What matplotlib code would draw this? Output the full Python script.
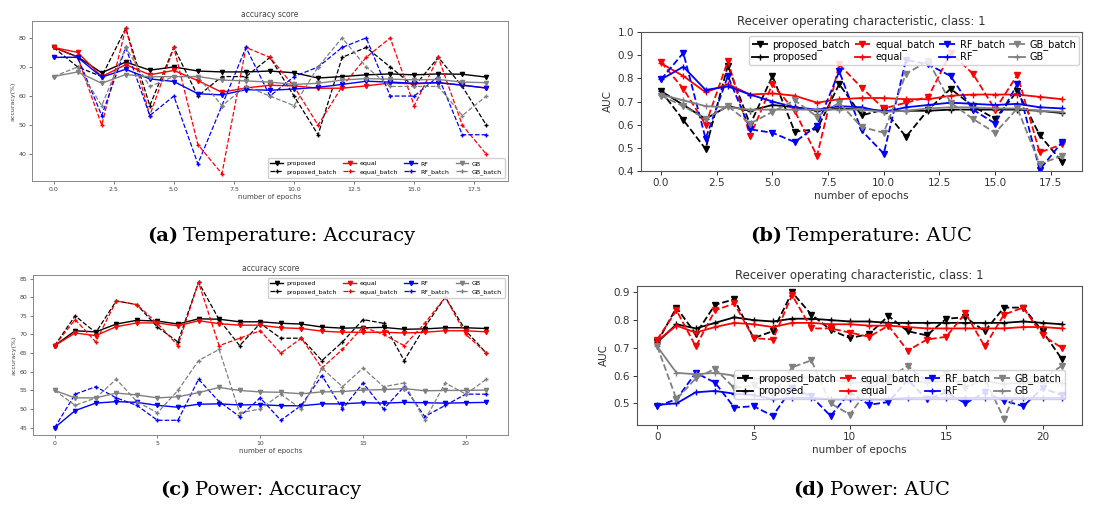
import matplotlib
matplotlib.use("Agg")
import matplotlib.pyplot as plt
import numpy as np

# ---------------- data ----------------
# (a) Temperature: Accuracy (19 epochs)
a_proposed = [76.7, 73.5, 68, 71.7, 68.9, 70, 68.6, 68.3, 68.3, 68.6, 68, 66.2, 66.7, 67.3, 67.6, 67.3, 67.6, 67.5, 66.5]
a_proposed_batch = [76.7, 70, 66.7, 83.3, 56.7, 76.7, 60, 66.7, 66.7, 73.3, 60, 46.7, 73.3, 76.7, 70, 63.3, 73.3, 63.3, 50]
a_equal = [76.7, 75, 66.7, 70.8, 67.3, 68.8, 65.3, 61.3, 62.8, 63.7, 63.5, 62.7, 62.7, 63.5, 64.5, 64.2, 64.6, 63.8, 62.7]
a_equal_batch = [76.7, 73.3, 50, 83.3, 53.3, 76.7, 43.3, 33.3, 76.7, 73.3, 63.3, 50, 63.3, 73.3, 80, 56.7, 73.3, 50, 40]
a_rf = [73.3, 73.3, 66.5, 69.2, 65.9, 65, 60.8, 60.4, 62.2, 62, 62.4, 63, 64, 65.1, 64.8, 64.4, 64.6, 63.7, 62.8]
a_rf_batch = [73.3, 73.3, 53.3, 76.7, 53.3, 60, 36.7, 56.7, 76.7, 60, 66.7, 70, 76.7, 80, 60, 60, 66.7, 46.7, 46.7]
a_gb = [66.7, 68.3, 64.4, 67.4, 66.6, 66.7, 66.7, 65.5, 65.2, 64.8, 64, 64.4, 65.5, 66, 65.8, 65.6, 65.7, 64.8, 64.6]
a_gb_batch = [66.7, 70, 56.7, 76.7, 63.3, 66.7, 66.7, 56.7, 63.3, 60, 56.7, 70, 80, 70, 63.3, 63.3, 63.3, 53.3, 60]

# (b) Temperature: AUC
b_proposed_batch = [0.745, 0.62, 0.495, 0.855, 0.6, 0.81, 0.57, 0.58, 0.775, 0.64, 0.665, 0.548, 0.665, 0.755, 0.68, 0.625, 0.745, 0.555, 0.44]
b_proposed = [0.745, 0.685, 0.625, 0.68, 0.66, 0.685, 0.675, 0.66, 0.67, 0.665, 0.66, 0.66, 0.66, 0.665, 0.665, 0.665, 0.665, 0.66, 0.65]
b_equal_batch = [0.87, 0.755, 0.6, 0.875, 0.55, 0.775, 0.66, 0.465, 0.86, 0.76, 0.67, 0.695, 0.72, 0.91, 0.82, 0.665, 0.815, 0.48, 0.515]
b_equal = [0.865, 0.81, 0.74, 0.775, 0.73, 0.735, 0.725, 0.695, 0.71, 0.715, 0.715, 0.71, 0.71, 0.725, 0.73, 0.73, 0.73, 0.72, 0.71]
b_rf_batch = [0.795, 0.91, 0.54, 0.81, 0.58, 0.565, 0.525, 0.595, 0.83, 0.575, 0.475, 0.88, 0.86, 0.81, 0.665, 0.605, 0.775, 0.405, 0.525]
b_rf = [0.795, 0.85, 0.75, 0.765, 0.73, 0.7, 0.675, 0.665, 0.68, 0.675, 0.655, 0.675, 0.685, 0.695, 0.69, 0.685, 0.69, 0.675, 0.67]
b_gb_batch = [0.725, 0.68, 0.625, 0.68, 0.605, 0.655, 0.705, 0.635, 0.695, 0.59, 0.565, 0.82, 0.875, 0.695, 0.625, 0.565, 0.67, 0.43, 0.465]
b_gb = [0.73, 0.705, 0.68, 0.675, 0.665, 0.665, 0.665, 0.665, 0.665, 0.665, 0.655, 0.66, 0.67, 0.675, 0.675, 0.67, 0.67, 0.66, 0.655]

# (c) Power: Accuracy (22 epochs)
c_proposed = [67, 71, 70.7, 72.8, 73.8, 73.6, 72.8, 74.2, 74.1, 73.4, 73.4, 73, 72.8, 72, 71.7, 71.8, 71.9, 71.4, 71.5, 71.8, 71.8, 71.6]
c_proposed_batch = [67, 75, 70.5, 79, 78, 72, 68, 84, 74, 67, 73, 69, 69, 63, 68, 74, 73, 63, 72, 80, 71, 65]
c_equal = [67, 70.4, 69.7, 72.1, 73.1, 73.1, 72.3, 73.7, 72.9, 72.5, 72.5, 71.8, 71.6, 70.9, 70.6, 70.6, 70.6, 70.4, 70.6, 71, 71, 70.7]
c_equal_batch = [67, 74, 68, 79, 78, 73, 67, 84, 67, 69, 71, 65, 69, 61, 66, 72, 70, 67, 73, 80, 70, 65]
c_rf = [45, 49.6, 51.6, 52, 51.8, 51, 50.5, 51.3, 51.4, 51.1, 51.2, 50.9, 50.9, 51.4, 51.4, 51.7, 51.6, 51.8, 51.7, 51.6, 51.7, 51.8]
c_rf_batch = [45, 54, 56, 53, 51, 47, 47, 58, 52, 48, 53, 47, 51, 59, 50, 57, 50, 56, 48, 51, 54, 54]
c_gb = [55, 53, 53, 54.3, 53.8, 53, 53.3, 54.4, 55.8, 55, 54.6, 54.5, 54.1, 54.6, 54.7, 55.1, 55.2, 55.5, 54.9, 55, 55, 55.1]
c_gb_batch = [55, 51, 53, 58, 52, 49, 55, 63, 66, 49, 50, 54, 50, 61, 56, 61, 56, 57, 47, 57, 54, 58]

# (d) Power: AUC
d_proposed_batch = [0.72, 0.845, 0.75, 0.855, 0.875, 0.735, 0.76, 0.9, 0.82, 0.765, 0.735, 0.75, 0.815, 0.76, 0.745, 0.805, 0.81, 0.76, 0.845, 0.845, 0.76, 0.66]
d_proposed = [0.72, 0.785, 0.77, 0.79, 0.81, 0.8, 0.795, 0.805, 0.805, 0.8, 0.795, 0.795, 0.79, 0.79, 0.79, 0.79, 0.79, 0.79, 0.79, 0.795, 0.79, 0.785]
d_equal_batch = [0.73, 0.835, 0.705, 0.835, 0.86, 0.735, 0.73, 0.89, 0.77, 0.77, 0.755, 0.74, 0.78, 0.69, 0.73, 0.74, 0.825, 0.705, 0.82, 0.845, 0.745, 0.7]
d_equal = [0.725, 0.78, 0.755, 0.775, 0.79, 0.785, 0.775, 0.79, 0.79, 0.785, 0.785, 0.78, 0.78, 0.775, 0.77, 0.77, 0.77, 0.77, 0.77, 0.775, 0.775, 0.77]
d_rf_batch = [0.49, 0.515, 0.61, 0.575, 0.485, 0.49, 0.455, 0.555, 0.525, 0.455, 0.54, 0.495, 0.505, 0.585, 0.515, 0.54, 0.5, 0.54, 0.51, 0.49, 0.555, 0.53]
d_rf = [0.495, 0.5, 0.54, 0.545, 0.535, 0.53, 0.515, 0.52, 0.52, 0.515, 0.515, 0.515, 0.515, 0.52, 0.52, 0.52, 0.52, 0.52, 0.52, 0.52, 0.52, 0.52]
d_gb_batch = [0.705, 0.515, 0.59, 0.625, 0.555, 0.565, 0.53, 0.63, 0.655, 0.5, 0.46, 0.555, 0.59, 0.635, 0.58, 0.605, 0.555, 0.59, 0.445, 0.6, 0.59, 0.635]
d_gb = [0.705, 0.61, 0.605, 0.61, 0.6, 0.59, 0.585, 0.59, 0.595, 0.585, 0.575, 0.575, 0.575, 0.58, 0.575, 0.58, 0.58, 0.58, 0.57, 0.575, 0.575, 0.575]

methods = ["proposed", "equal", "RF", "GB"]
colors = ["black", "red", "blue", "gray"]

captions = [("(a)", "Temperature: Accuracy"), ("(b)", "Temperature: AUC"),
            ("(c)", "Power: Accuracy"), ("(d)", "Power: AUC")]

# ---------------- figure ----------------
W, H = 1118, 505
fig = plt.figure(figsize=(W / 100, H / 100), dpi=100)

def px_axes(l, t, r, b):
    return fig.add_axes([l / W, 1 - b / H, (r - l) / W, (b - t) / H])

txtc = "#444444"

# ---- accuracy panels (small fonts) ----
def acc_panel(ax, series, legloc):
    n = len(series[0][0])
    x = np.arange(n)
    for (solid, batch), m, c in zip(series, methods, colors):
        ax.plot(x, solid, color=c, ls="-", marker="v", ms=3, lw=1.0, label=m)
        ax.plot(x, batch, color=c, ls="--", marker="+", ms=3, lw=0.9, label=m + "_batch")
    ax.set_title("accuracy score", fontsize=5.5, color=txtc, pad=3)
    ax.set_xlabel("number of epochs", fontsize=5, color=txtc, labelpad=2)
    ax.set_ylabel("accuracy(%)", fontsize=4.5, color=txtc, labelpad=2)
    ax.tick_params(labelsize=4.5, colors=txtc, length=2, width=0.5, pad=2)
    for s in ax.spines.values():
        s.set_color("#888888")
        s.set_linewidth(0.7)
    ax.legend(loc=legloc, ncol=4, fontsize=4.5, handlelength=2.0, columnspacing=1.0,
              handletextpad=0.6, borderpad=0.45, labelspacing=0.4, framealpha=0.9,
              edgecolor="#cccccc")

# ---- AUC panels ----
def auc_panel(ax, series, **legkw):
    n = len(series[0][0])
    x = np.arange(n)
    for (batch, solid), m, c in zip(series, methods, colors):
        ax.plot(x, batch, color=c, ls="--", marker="v", ms=5, lw=1.3, label=m + "_batch")
        ax.plot(x, solid, color=c, ls="-", marker="+", ms=5, lw=1.3, label=m)
    ax.set_title("Receiver operating characteristic, class: 1", fontsize=8.5, color="#333333", pad=5)
    ax.set_xlabel("number of epochs", fontsize=7.5, color="#333333", labelpad=2)
    ax.set_ylabel("AUC", fontsize=7.5, color="#333333", labelpad=3)
    ax.tick_params(labelsize=7.5, colors="#333333", length=3, width=0.7, pad=2)
    for s in ax.spines.values():
        s.set_color("#555555")
        s.set_linewidth(0.8)
    ax.legend(ncol=4, fontsize=7, handlelength=1.6, columnspacing=0.45,
              handletextpad=0.5, borderpad=0.3, labelspacing=0.25, framealpha=0.85,
              edgecolor="#cccccc", **legkw)

ax_a = px_axes(32, 21, 508, 181)
acc_panel(ax_a, [(a_proposed, a_proposed_batch), (a_equal, a_equal_batch),
                 (a_rf, a_rf_batch), (a_gb, a_gb_batch)], "lower right")

ax_b = px_axes(641, 32, 1082, 171)
auc_panel(ax_b, [(b_proposed_batch, b_proposed), (b_equal_batch, b_equal),
                 (b_rf_batch, b_rf), (b_gb_batch, b_gb)], loc="upper right",
          bbox_to_anchor=(1.005, 1.005))
ax_b.set_ylim(0.4, 1.0)

ax_c = px_axes(33, 275, 508, 435)
acc_panel(ax_c, [(c_proposed, c_proposed_batch), (c_equal, c_equal_batch),
                 (c_rf, c_rf_batch), (c_gb, c_gb_batch)], "upper right")

ax_d = px_axes(637, 286, 1082, 425)
auc_panel(ax_d, [(d_proposed_batch, d_proposed), (d_equal_batch, d_equal),
                 (d_rf_batch, d_rf), (d_gb_batch, d_gb)], loc="center",
          bbox_to_anchor=(0.59, 0.29))

# ---- captions ----
cap_pos = [(178, 183, 236), (782, 786, 236), (190, 195, 490), (825, 830, 490)]
for (lab, rest), (xr, xl, y) in zip(captions, cap_pos):
    fig.text(xr / W, 1 - y / H, lab, ha="right", va="center", fontsize=14,
             fontweight="bold", family="DejaVu Serif")
    fig.text(xl / W, 1 - y / H, rest, ha="left", va="center", fontsize=14,
             family="DejaVu Serif")

fig.savefig("out.png", dpi=100)
